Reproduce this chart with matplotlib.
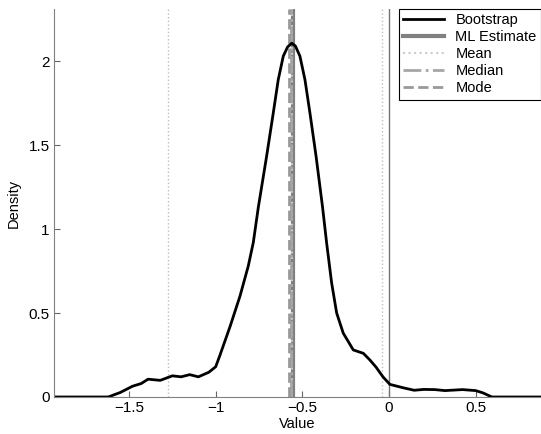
import numpy as np
import matplotlib
matplotlib.use('Agg')
import matplotlib.pyplot as plt

plt.rcParams['font.family'] = ['Liberation Sans', 'DejaVu Sans']

# bootstrap density curve
x_vals = [-1.93, -1.62, -1.55, -1.48, -1.43, -1.39, -1.32, -1.25, -1.20, -1.15,
          -1.10, -1.04, -1.00, -0.975, -0.917, -0.86, -0.812, -0.783, -0.754,
          -0.706, -0.668, -0.639, -0.61, -0.585, -0.561, -0.54, -0.514, -0.485,
          -0.456, -0.421, -0.383, -0.36, -0.331, -0.302, -0.264, -0.206,
          -0.148, -0.11, -0.075, -0.035, 0.005, 0.085, 0.145, 0.20, 0.264,
          0.323, 0.424, 0.50, 0.543, 0.593, 0.88]
dens = [0, 0, 0.027, 0.064, 0.08, 0.106, 0.099, 0.126, 0.12, 0.133,
        0.12, 0.147, 0.18, 0.25, 0.42, 0.60, 0.78, 0.92, 1.13,
        1.435, 1.69, 1.89, 2.03, 2.085, 2.107, 2.09, 2.03, 1.89,
        1.69, 1.435, 1.127, 0.918, 0.679, 0.50, 0.38, 0.28,
        0.26, 0.22, 0.178, 0.12, 0.075, 0.054, 0.04, 0.045, 0.044,
        0.038, 0.044, 0.038, 0.024, 0, 0]

ml_est = -0.554
mean_val = -0.562
median_val = -0.566
mode_val = -0.576
ci = [-1.273, -0.039]

fig = plt.figure(figsize=(5.41, 4.34), dpi=100)
ax = fig.add_axes([0.0998, 0.0853, 0.9002, 0.8937])

ax.axvline(0, color='0.45', lw=1)
for c in ci:
    ax.axvline(c, color='0.75', lw=1, ls=':')
ax.axvline(ml_est, color='0.5', lw=3, label='ML Estimate')
ax.axvline(mean_val, color='0.8', lw=1.5, ls=':', label='Mean')
ax.axvline(median_val, color='0.65', lw=2, ls='-.', label='Median')
ax.axvline(mode_val, color='0.6', lw=2, ls='--', label='Mode')
ax.plot(x_vals, dens, color='k', lw=2, label='Bootstrap')

ax.set_xlim(-1.933, 0.877)
ax.set_ylim(0, 2.31)
ax.set_xticks([-1.5, -1, -0.5, 0, 0.5])
ax.set_xticklabels(['\u22121.5', '\u22121', '\u22120.5', '0', '0.5'])
ax.set_yticks([0, 0.5, 1, 1.5, 2])
ax.set_yticklabels(['0', '0.5', '1', '1.5', '2'])
ax.tick_params(direction='in', length=4, color='0.4', labelsize=11, pad=3)
for s in ['top', 'right']:
    ax.spines[s].set_visible(False)
for s in ['left', 'bottom']:
    ax.spines[s].set_color('0.5')
ax.set_xlabel('Value', fontsize=10.5, labelpad=1)
ax.set_ylabel('Density', fontsize=10.5, labelpad=6)

h, l = ax.get_legend_handles_labels()
order = [4, 0, 1, 2, 3]
leg = ax.legend([h[i] for i in order], [l[i] for i in order],
                loc='upper right', bbox_to_anchor=(1.0, 1.0), fontsize=10.5,
                fancybox=False, framealpha=1, edgecolor='k', borderaxespad=0,
                handlelength=2.8, labelspacing=0.2, borderpad=0.3)
leg.get_frame().set_linewidth(0.8)

fig.savefig('out.png', dpi=100)
